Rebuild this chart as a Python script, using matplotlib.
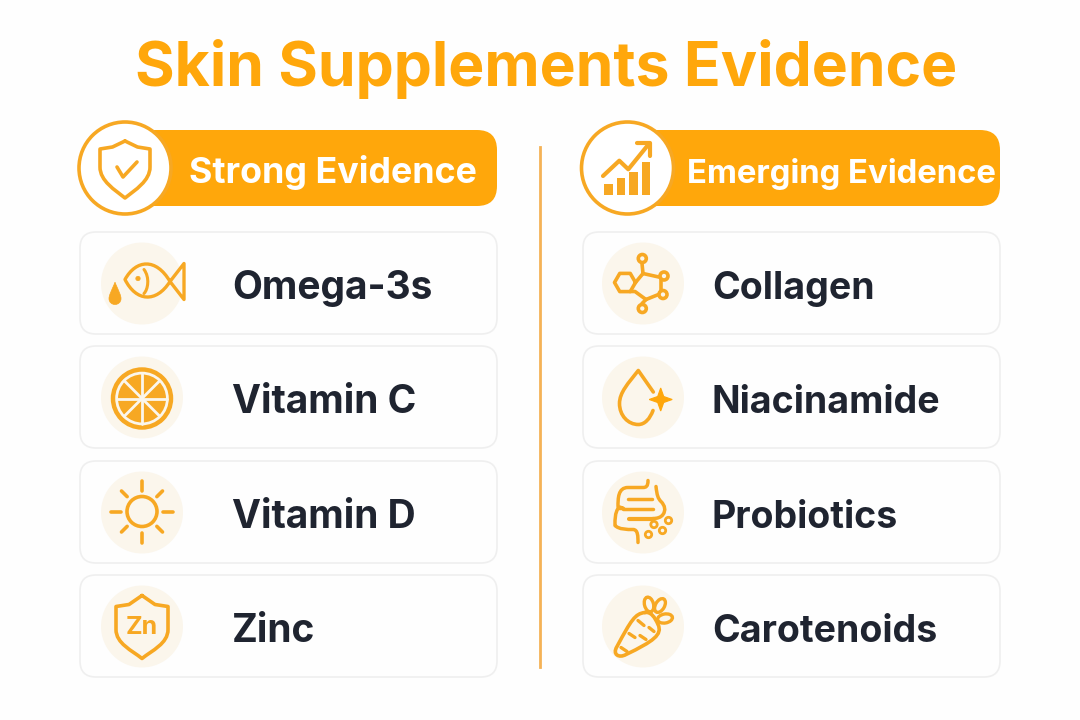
import matplotlib
matplotlib.use("Agg")
import matplotlib.pyplot as plt
import matplotlib.patches as patches
from matplotlib.path import Path
import numpy as np

# Chart content
title = "Skin Supplements Evidence"
group_names = ["Strong Evidence", "Emerging Evidence"]
strong_items = ["Omega-3s", "Vitamin C", "Vitamin D", "Zinc"]
emerging_items = ["Collagen", "Niacinamide", "Probiotics", "Carotenoids"]

ORANGE = "#ffa70b"
LINE = "#f7a823"
PALE = "#fbf6ec"
DARK = "#1f2430"
FONT = "Inter"

fig = plt.figure(figsize=(10.8, 7.2), dpi=100, facecolor="#fefefe")
ax = fig.add_axes([0, 0, 1, 1])
ax.set_xlim(0, 1080)
ax.set_ylim(720, 0)
ax.axis("off")


def stroke(points, lw=2.6, color=LINE):
    xs, ys = zip(*points)
    ax.plot(xs, ys, color=color, lw=lw, solid_capstyle="round", solid_joinstyle="round", zorder=5)


def curve(verts, codes, lw=2.6, fill="none", edge=LINE):
    ax.add_patch(patches.PathPatch(Path(verts, codes), fc=fill, ec=edge, lw=lw,
                                   capstyle="round", joinstyle="round", zorder=5))


def dot(x, y, r, fill="none", lw=2.2):
    ax.add_patch(patches.Circle((x, y), r, fc=fill, ec=LINE, lw=lw, zorder=5))


def shield(top, corner_y, half, side_y, bottom, cx, lw):
    M, L, C = Path.MOVETO, Path.LINETO, Path.CURVE4
    verts = [(cx, top), (cx + half * 0.5, corner_y - 2), (cx + half, corner_y),
             (cx + half, side_y),
             (cx + half, side_y + 14), (cx + 10, bottom - 8), (cx, bottom),
             (cx - 10, bottom - 8), (cx - half, side_y + 14), (cx - half, side_y),
             (cx - half, corner_y), (cx - half * 0.5, corner_y - 2), (cx, top)]
    codes = [M, L, L, L, C, C, C, C, C, C, L, L, L]
    curve(verts, codes, lw=lw)


def icon_shield_check(cx, cy):
    shield(cy - 27, cy - 19, 25, cy - 1, cy + 30, cx, 2.6)
    stroke([(cx - 8, cy - 1), (cx - 2, cy + 9), (cx + 12, cy - 6)], lw=2.6)


def icon_chart(cx, cy):
    for x, top in zip([-23.7, -11, 1.3, 14], [16, 10, 4.3, -6.3]):
        ax.add_patch(patches.Rectangle((cx + x, cy + top), 8.3, 27 - top, fc=LINE, ec="none", zorder=5))
    stroke([(cx - 25, cy + 8), (cx - 8.7, cy - 7.3), (cx + 0.3, cy + 1.3), (cx + 20, cy - 23)], lw=3.0)
    stroke([(cx + 8.7, cy - 25), (cx + 22, cy - 25), (cx + 22, cy - 12)], lw=3.0)


def icon_fish(cx, cy):
    M, C, L = Path.MOVETO, Path.CURVE4, Path.LINETO
    verts = [(cx + 28, cy - 2), (cx + 14, cy - 26), (cx - 6, cy - 24), (cx - 17, cy - 4),
             (cx - 6, cy + 18), (cx + 14, cy + 20), (cx + 28, cy - 2),
             (cx + 42, cy - 20), (cx + 42, cy + 16), (cx + 28, cy - 2)]
    codes = [M, C, C, C, C, C, C, L, L, L]
    curve(verts, codes, lw=2.4)
    curve([(cx + 2, cy - 14), (cx + 8, cy - 6), (cx + 6, cy + 6), (cx + 2, cy + 10)],
          [M, C, C, C], lw=2.2)
    dot(cx - 4, cy - 5, 2.2, fill=LINE, lw=0.5)
    curve([(cx - 27, cy - 1), (cx - 31, cy + 8), (cx - 33, cy + 12), (cx - 33, cy + 15),
           (cx - 33, cy + 23), (cx - 21, cy + 23), (cx - 21, cy + 15),
           (cx - 21, cy + 12), (cx - 23, cy + 8), (cx - 27, cy - 1)],
          [M, C, C, C, C, C, C, C, C, C], lw=0.5, fill=LINE)


def icon_orange(cx, cy):
    cy += 1
    dot(cx, cy, 29, lw=3.2)
    dot(cx, cy, 24, fill=LINE, lw=0)
    for a in np.deg2rad([0, 45, 90, 135]):
        dx, dy = 25 * np.cos(a), 25 * np.sin(a)
        stroke([(cx - dx, cy - dy), (cx + dx, cy + dy)], lw=2.0, color=PALE)


def icon_sun(cx, cy):
    cy -= 1
    dot(cx, cy, 15, lw=2.6)
    for a in np.deg2rad(np.arange(0, 360, 45)):
        r0, r1 = (21, 31) if round(np.rad2deg(a)) % 90 == 0 else (21, 29)
        stroke([(cx + r0 * np.cos(a), cy + r0 * np.sin(a)), (cx + r1 * np.cos(a), cy + r1 * np.sin(a))], lw=2.6)


def icon_zinc(cx, cy):
    shield(cy - 31, cy - 20, 26, cy + 3, cy + 32, cx, 2.6)
    ax.text(cx, cy + 8, "Zn", color=LINE, fontsize=18, fontweight="bold", family=FONT,
            ha="center", va="baseline", zorder=5)


def icon_molecule(cx, cy):
    hx, hy = cx - 18, cy - 1
    hexagon = [(hx + 10.5 * np.cos(a), hy + 10.5 * np.sin(a)) for a in np.deg2rad(np.arange(0, 361, 60))]
    stroke(hexagon, lw=2.6)
    ring = [(hx + 10.5, hy), (cx, cy - 10), (cx + 18, cy - 6), (cx + 18, cy + 10),
            (cx + 3, cy + 16), (cx - 8, cy + 8)]
    stroke(ring[1:5], lw=2.6)
    stroke([ring[0], ring[1]], lw=2.6)
    stroke([ring[4], ring[5], (hx + 5, hy + 9)], lw=2.6)
    stroke([(cx, cy - 10), (cx - 1, cy - 20)], lw=2.6)
    stroke([(cx + 3, cy + 16), (cx - 1, cy + 20)], lw=2.6)
    for x, y in [(-0.7, -25), (21, -7.5), (20, 11), (-0.7, 25)]:
        dot(cx + x, cy + y, 4, fill=PALE, lw=2.6)


def icon_drop(cx, cy):
    M, C, L = Path.MOVETO, Path.CURVE4, Path.LINETO
    verts = [(cx + 10.3, cy - 5.5), (cx - 4.7, cy - 27),
             (cx - 15, cy - 14), (cx - 23.5, cy - 5), (cx - 23.5, cy + 6),
             (cx - 23.5, cy + 18), (cx - 15, cy + 27), (cx - 4.7, cy + 27),
             (cx + 2, cy + 27), (cx + 7, cy + 21), (cx + 10, cy + 13)]
    codes = [M, L, C, C, C, C, C, C, C, C, C]
    curve(verts, codes, lw=2.6)
    sx, sy = cx + 17.7, cy + 2
    r, k = 11.5, 3
    star = [(sx, sy - r), (sx + k, sy - k), (sx + r, sy), (sx + k, sy + k),
            (sx, sy + r), (sx - k, sy + k), (sx - r, sy), (sx - k, sy - k), (sx, sy - r)]
    ax.add_patch(patches.Polygon(star, fc=ORANGE, ec=ORANGE, lw=0.8, zorder=5))


def icon_gut(cx, cy):
    M, C, L = Path.MOVETO, Path.CURVE4, Path.LINETO
    outer = [(cx + 5, cy - 32), (cx + 5, cy - 26), (cx + 3, cy - 25), (cx, cy - 25),
             (cx - 15, cy - 25), (cx - 25, cy - 25), (cx - 25, cy - 14),
             (cx - 25, cy - 6), (cx - 20, cy - 4), (cx - 15, cy - 4),
             (cx - 25, cy - 4), (cx - 28, cy + 1), (cx - 28, cy + 6),
             (cx - 28, cy + 13), (cx - 24, cy + 17), (cx - 16, cy + 17),
             (cx - 10, cy + 17), (cx - 5, cy + 17), (cx - 5, cy + 24), (cx - 5, cy + 30)]
    codes = [M, C, C, C, L, C, C, C, C, C, C, C, C, C, C, C, L, C, C, C]
    curve(outer, codes, lw=2.5)
    stroke([(cx - 15, cy - 14), (cx + 9, cy - 14)], lw=2.5)
    stroke([(cx - 20, cy - 4), (cx + 10, cy - 4)], lw=2.5)
    stroke([(cx - 14, cy + 6), (cx + 10, cy + 6)], lw=3.0)
    curve([(cx + 13, cy - 26), (cx + 14, cy - 17), (cx + 15, cy - 14), (cx + 18, cy - 11),
           (cx + 22, cy - 7), (cx + 23, cy - 2), (cx + 20, cy + 2),
           (cx + 18, cy + 5), (cx + 14, cy + 6), (cx + 10, cy + 6)],
          [M, C, C, C, C, C, C, C, C, C], lw=2.5)
    for x, y in [(11, 12), (25.5, 8), (19.5, 18), (5.5, 22)]:
        dot(cx + x, cy + y, 3.2, lw=2.0)


def icon_carrot(cx, cy):
    M, C, L = Path.MOVETO, Path.CURVE4, Path.LINETO
    verts = [(cx + 2, cy - 14), (cx - 8, cy - 13), (cx - 12, cy - 6), (cx - 26, cy + 20),
             (cx - 31, cy + 28), (cx - 24, cy + 32), (cx - 17, cy + 28),
             (cx + 10, cy + 15), (cx + 20, cy + 8), (cx + 15, cy - 2),
             (cx + 12, cy - 9), (cx + 8, cy - 15), (cx + 2, cy - 14)]
    codes = [M, C, C, C, C, C, C, C, C, C, C, C, C]
    curve(verts, codes, lw=2.6)
    for x, y, w, h, a in [(6, -22, 9, 15, -15), (17, -21, 9, 15, 30), (22, -8, 9, 15, 80)]:
        ax.add_patch(patches.Ellipse((cx + x, cy + y), w, h, angle=a, fc=PALE, ec=LINE, lw=2.4, zorder=5))
    for p in [[(-14, 7), (-8, 11)], [(-22, 21), (-16, 25)], [(-5, -6), (1, -1)], [(-3, 9), (3, 13)], [(6, 1), (11, 5)]]:
        stroke([(cx + p[0][0], cy + p[0][1]), (cx + p[1][0], cy + p[1][1])], lw=2.4)


header_icons = [icon_shield_check, icon_chart]
item_icons = [[icon_fish, icon_orange, icon_sun, icon_zinc],
              [icon_molecule, icon_drop, icon_gut, icon_carrot]]
columns = [strong_items, emerging_items]

# Layout in pixels
col_left = [80, 583]
card_w = 417
card_tops = [232, 346, 461, 575]
card_h = 102
icon_x = [142, 643]
text_x = [232, 712]
item_size = [28, 27]
circle_x = [125, 627.5]
header_icon_x = [125, 628]
header_text_x = [189, 687]
header_size = [25.8, 23.7]

ax.text(546.5, 86, title, color=ORANGE, fontsize=43.7, fontweight="bold", family=FONT,
        ha="center", va="baseline")
ax.plot([540, 540], [147, 667], color="#f5b256", lw=2)

for c, items in enumerate(columns):
    left = col_left[c]
    pill = patches.FancyBboxPatch((left + 50, 130), card_w - 50, 76, boxstyle="round,pad=0,rounding_size=20",
                                  fc=ORANGE, ec="none", zorder=2)
    ax.add_patch(pill)
    ax.add_patch(patches.Circle((circle_x[c], 168), 46, fc="#ffffff", ec=LINE, lw=2.6, zorder=3))
    header_icons[c](header_icon_x[c], 168)
    ax.text(header_text_x[c], 182.5, group_names[c], color="white", fontsize=header_size[c], fontweight="bold",
            family=FONT, ha="left", va="baseline", zorder=4)

    for i, name in enumerate(items):
        top = card_tops[i]
        ax.add_patch(patches.FancyBboxPatch((left, top), card_w, card_h, boxstyle="round,pad=0,rounding_size=16",
                                            fc="#fefefe", ec="#efefef", lw=1.2, zorder=1))
        cx, cy = icon_x[c], top + 51.5
        ax.add_patch(patches.Circle((cx, cy), 41, fc=PALE, ec="none", zorder=2))
        item_icons[c][i](cx, cy)
        ax.text(text_x[c], top + 67, name, color=DARK, fontsize=item_size[c], fontweight="bold",
                family=FONT, ha="left", va="baseline", zorder=4)

fig.savefig("out.png", dpi=100, facecolor=fig.get_facecolor())
